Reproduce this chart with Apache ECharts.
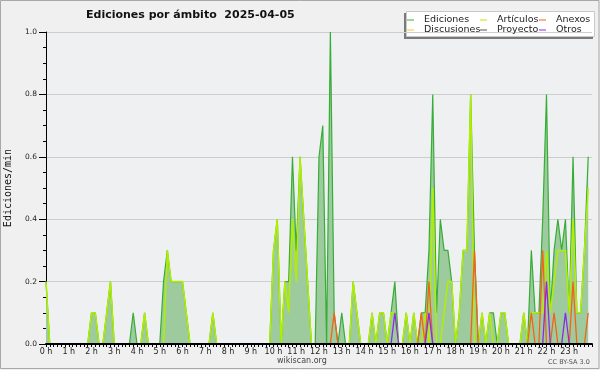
<!DOCTYPE html>
<html>
<head>
<meta charset="utf-8">
<script src="https://cdn.jsdelivr.net/npm/echarts@6/dist/echarts.min.js"></script>
<style>
html,body{margin:0;padding:0;background:#f0f0f0;}
#c{width:600px;height:370px;}
</style>
</head>
<body>
<div id="c"></div>
<script>
// 10-minute slots (index 0 = 00:00 ... 143 = 23:50), values in edits/min
const hourLabels = ['0 h','1 h','2 h','3 h','4 h','5 h','6 h','7 h','8 h','9 h','10 h','11 h','12 h','13 h','14 h','15 h','16 h','17 h','18 h','19 h','20 h','21 h','22 h','23 h'];
const seriesNames = ['Ediciones','Discusiones','Proyecto','Artículos','Anexos','Otros'];

const ediciones = [
  0.2,0,0,0,0,0,   0,0,0,0,0,0,   0.1,0.1,0,0,0.1,0.2,   0,0,0,0,0,0.1,
  0,0,0.1,0,0,0,   0,0.2,0.3,0.2,0.2,0.2,   0.2,0.1,0,0,0,0,   0,0,0.1,0,0,0,
  0,0,0,0,0,0,   0,0,0,0,0,0,   0.3,0.4,0,0.2,0.2,0.6,   0.3,0.6,0.4,0.2,0,0,
  0.6,0.7,0,1.0,0.1,0,   0.1,0,0,0.2,0.1,0,   0,0,0.1,0,0.1,0.1,   0,0.1,0.2,0,0,0.1,
  0,0.1,0,0.1,0.1,0.3,   0.8,0.1,0.4,0.3,0.3,0.2,   0,0.1,0.3,0.3,0.8,0.3,   0,0.1,0,0.1,0.1,0,
  0.1,0.1,0,0,0,0,   0.1,0,0.3,0.1,0.1,0.4,   0.8,0.1,0.3,0.4,0.3,0.4,   0.1,0.6,0.1,0.1,0.3,0.6
];
const articulos = [
  0.2,0,0,0,0,0,   0,0,0,0,0,0,   0.1,0.1,0,0,0.1,0.2,   0,0,0,0,0,0,
  0,0,0.1,0,0,0,   0,0,0.3,0.2,0.2,0.2,   0.2,0.1,0,0,0,0,   0,0,0.1,0,0,0,
  0,0,0,0,0,0,   0,0,0,0,0,0,   0.3,0.4,0,0.2,0.1,0.4,   0.2,0.6,0.4,0.2,0,0,
  0,0,0,0,0,0,   0,0,0,0.2,0.1,0,   0,0,0.1,0,0.1,0.1,   0,0.1,0.1,0,0,0.1,
  0,0.1,0,0,0.1,0,   0.5,0,0,0.1,0.2,0.2,   0,0.1,0.3,0.3,0.8,0,   0,0.1,0,0.1,0,0,
  0.1,0.1,0,0,0,0,   0.1,0,0.1,0.1,0.1,0.1,   0.3,0.1,0.2,0.3,0.3,0.3,   0.1,0.4,0.1,0.1,0.3,0.5
];
const anexos = [
  0,0,0,0,0,0,   0,0,0,0,0,0,   0,0,0,0,0,0,   0,0,0,0,0,0,
  0,0,0,0,0,0,   0,0,0,0,0,0,   0,0,0,0,0,0,   0,0,0,0,0,0,
  0,0,0,0,0,0,   0,0,0,0,0,0,   0,0,0,0,0,0,   0,0,0,0,0,0,
  0,0,0,0,0.1,0,   0,0,0,0,0,0,   0,0,0,0,0,0,   0,0,0,0,0,0,
  0,0,0,0.1,0,0.2,   0,0,0,0,0,0,   0,0,0,0,0,0.3,   0,0,0,0,0,0,
  0,0,0,0,0,0,   0,0,0.1,0,0,0.3,   0,0,0.1,0,0,0,   0,0.2,0,0,0,0.1
];
const otros = [
  0,0,0,0,0,0,   0,0,0,0,0,0,   0,0,0,0,0,0,   0,0,0,0,0,0,
  0,0,0,0,0,0,   0,0,0,0,0,0,   0,0,0,0,0,0,   0,0,0,0,0,0,
  0,0,0,0,0,0,   0,0,0,0,0,0,   0,0,0,0,0,0,   0,0,0,0,0,0,
  0,0,0,0,0,0,   0,0,0,0,0,0,   0,0,0,0,0,0,   0,0,0.1,0,0,0,
  0,0,0,0,0,0.1,   0,0,0,0,0,0,   0,0,0,0,0,0,   0,0,0,0,0,0,
  0,0,0,0,0,0,   0,0,0,0,0,0,   0.2,0,0,0,0,0.1,   0,0,0,0,0,0
];
const discusiones = [
  0,0,0,0,0,0, 0,0,0,0,0,0, 0,0,0,0,0,0, 0,0,0,0,0,0,
  0,0,0,0,0,0, 0,0,0,0,0,0, 0,0,0,0,0,0, 0,0,0,0,0,0,
  0,0,0,0,0,0, 0,0,0,0,0,0, 0,0,0,0,0,0, 0,0,0,0,0,0,
  0,0,0,0,0,0, 0,0,0,0,0,0, 0,0,0,0,0,0, 0,0,0,0,0,0,
  0,0,0,0,0,0, 0,0,0,0,0,0, 0,0,0,0,0,0, 0,0,0,0,0,0,
  0,0,0,0,0,0, 0,0,0,0,0,0, 0,0,0,0,0,0, 0,0,0,0,0,0
];
const proyecto = [
  0,0,0,0,0,0, 0,0,0,0,0,0, 0,0,0,0,0,0, 0,0,0,0,0,0,
  0,0,0,0,0,0, 0,0,0,0,0,0, 0,0,0,0,0,0, 0,0,0,0,0,0,
  0,0,0,0,0,0, 0,0,0,0,0,0, 0,0,0,0,0,0, 0,0,0,0,0,0,
  0,0,0,0,0,0, 0,0,0,0,0,0, 0,0,0,0,0,0, 0,0,0,0,0,0,
  0,0,0,0,0,0, 0,0,0,0,0,0, 0,0,0,0,0,0, 0,0,0,0,0,0,
  0,0,0,0,0,0, 0,0,0,0,0,0, 0,0,0,0,0,0, 0,0,0,0,0,0
];

const SLOT_MIN = 10;
function pairs(arr){ return arr.map((v,i)=>[i*SLOT_MIN, v]); }

const FONT = 'DejaVu Sans';
const colors = {
  'Ediciones':'#36ad36','Discusiones':'#f5c92a','Proyecto':'#555555',
  'Artículos':'#b2ee00','Anexos':'#f5621a','Otros':'#8a2be8'
};
function mk(name, data, extra){
  return Object.assign({
    name, type:'line', data:pairs(data), symbol:'none', showSymbol:false,
    lineStyle:{color:colors[name], width:1.3},
    itemStyle:{color:colors[name]},
    emphasis:{disabled:true}, silent:true, z:3
  }, extra||{});
}

const legendCommon = {
  orient:'vertical', itemGap:0, itemWidth:7, itemHeight:1, icon:'rect',
  selectedMode:false, padding:0,
  textStyle:{fontFamily:FONT, fontSize:9.5, color:'#222', lineHeight:10, padding:[0,0,0,5]}
};

const chart = echarts.init(document.getElementById('c'), null, {renderer:'canvas'});
chart.setOption({
  animation:false,
  backgroundColor:'#f0f0f0',
  title:{text:'Ediciones por ámbito  2025-04-05', left:86, top:10, padding:0,
    textStyle:{fontFamily:FONT, fontSize:11, fontWeight:'bold', color:'#111'}},
  grid:{left:46, right:8, top:32, height:312, show:true, backgroundColor:'#eff0f2', borderWidth:0,
    containLabel:false, outerBoundsMode:'none'},
  xAxis:{
    type:'value', min:0, max:1440, interval:60, z:10,
    axisLine:{show:true, onZero:false, lineStyle:{color:'#000', width:2}},
    axisTick:{show:true, length:3, lineStyle:{color:'#000'}},
    minorTick:{show:true, splitNumber:6, length:3, lineStyle:{color:'#000'}},
    splitLine:{show:false},
    axisLabel:{fontFamily:FONT, fontSize:8, color:'#222', margin:4, showMaxLabel:false,
      formatter:(v)=>{ const h = Math.round(v/60); return h < hourLabels.length ? hourLabels[h] : ''; }}
  },
  yAxis:{
    type:'value', min:0, max:1, interval:0.2,
    name:'Ediciones/min', nameLocation:'middle', nameGap:33, nameRotate:90,
    nameTextStyle:{fontFamily:'DejaVu Sans Mono', fontSize:10, color:'#111'},
    axisLine:{show:true, lineStyle:{color:'#000', width:1}},
    axisTick:{show:true, length:7, lineStyle:{color:'#000'}},
    minorTick:{show:true, splitNumber:4, length:3, lineStyle:{color:'#000'}},
    splitLine:{show:true, lineStyle:{color:'#cdcdcd', width:1}},
    minorSplitLine:{show:false},
    axisLabel:{fontFamily:FONT, fontSize:7.5, color:'#222', margin:9, formatter:(v)=>v.toFixed(1)}
  },
  legend:[
    Object.assign({left:407, top:15, data:['Ediciones','Discusiones']}, legendCommon),
    Object.assign({left:480, top:15, data:['Artículos','Proyecto']}, legendCommon),
    Object.assign({left:539, top:15, data:['Anexos','Otros']}, legendCommon)
  ],
  graphic:[
    {type:'rect', silent:true, z:-1, shape:{x:0.5, y:0.5, width:598.5, height:368}, style:{fill:null, stroke:'#a8a8a8', lineWidth:1}},
    {type:'rect', silent:true, z:0, shape:{x:404, y:13, width:189, height:26}, style:{fill:'#7a7a7a'}},
    {type:'rect', silent:true, z:0, shape:{x:406.5, y:11.5, width:188, height:25}, style:{fill:'#ffffff', stroke:'#c8c8c8', lineWidth:1}},
    {type:'text', silent:true, left:277, top:357, style:{text:'wikiscan.org', font:'8px DejaVu Sans', fill:'#444'}},
    {type:'text', silent:true, left:548, top:359, style:{text:'CC BY-SA 3.0', font:'6.5px DejaVu Sans', fill:'#555'}}
  ],
  series:[
    mk('Ediciones', ediciones, {z:2, lineStyle:{color:colors['Ediciones'], width:1.2},
      areaStyle:{color:'#9ecb9e', opacity:1}}),
    mk('Discusiones', discusiones),
    mk('Proyecto', proyecto),
    mk('Artículos', articulos, {lineStyle:{color:colors['Artículos'], width:1.5}}),
    mk('Anexos', anexos, {z:4}),
    mk('Otros', otros, {z:4})
  ]
});
</script>
</body>
</html>
